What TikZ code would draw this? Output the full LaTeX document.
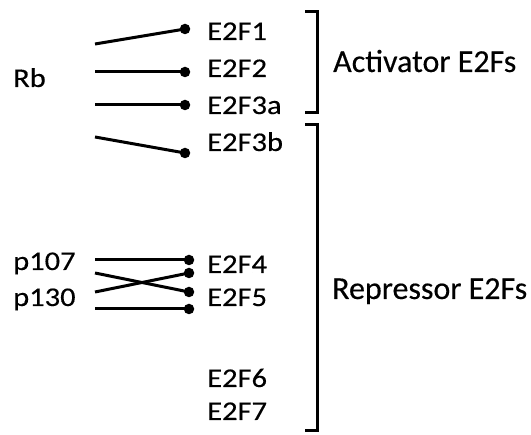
\documentclass[tikz,border=0pt]{standalone}
\usepackage{fontspec}
\setmainfont{Carlito}[FakeBold=0.3]
\newfontfamily\lblfont{Carlito}[FakeStretch=1.13,FakeBold=0.3]
\begin{document}
\begin{tikzpicture}[x=1pt,y=-1pt,
  lbl/.style={anchor=base west,inner sep=0pt,font=\lblfont\fontsize{27}{30}\selectfont},
  grp/.style={anchor=base west,inner sep=0pt,font=\fontsize{32}{38}\selectfont},
  tip/.style={circle,fill=black,inner sep=0pt,minimum size=10.5pt},
  bond/.style={line width=3pt},
  brk/.style={line width=3pt}]
\useasboundingbox (0,0) rectangle (531,435);

% binding partners
\node[lbl] (rb) at (13,87) {Rb};
\node[lbl] (p107) at (13,270) {p107};
\node[lbl] (p130) at (13,306) {p130};

% E2F family members
\node[lbl] (f1) at (207,40) {E2F1};
\node[lbl] (f2) at (207,77) {E2F2};
\node[lbl] (f3a) at (207,114) {E2F3a};
\node[lbl] (f3b) at (207,151) {E2F3b};
\node[lbl] (f4) at (207,273) {E2F4};
\node[lbl] (f5) at (207,306) {E2F5};
\node[lbl] (f6) at (207,387) {E2F6};
\node[lbl] (f7) at (207,420) {E2F7};

% group labels
\node[grp] (act) at (333,72) {Activator E2Fs};
\node[grp] (rep) at (332,299) {Repressor E2Fs};

% Rb interactions
\coordinate (r1) at (95,44);
\coordinate (r2) at (95,72);
\coordinate (r3) at (95,105);
\coordinate (r4) at (95,137);
\node[tip] (d1) at (185,29) {};
\node[tip] (d2) at (185,72) {};
\node[tip] (d3) at (185,105) {};
\node[tip] (d4) at (185,153) {};
\draw[bond] (r1) -- (d1.center);
\draw[bond] (r2) -- (d2.center);
\draw[bond] (r3) -- (d3.center);
\draw[bond] (r4) -- (d4.center);

% p107 / p130 interactions
\coordinate (q1) at (95,260);
\coordinate (q2) at (95,273);
\coordinate (q3) at (95,292);
\coordinate (q4) at (95,309);
\node[tip] (e1) at (189,260) {};
\node[tip] (e2) at (189,273) {};
\node[tip] (e3) at (189,292) {};
\node[tip] (e4) at (189,309) {};
\draw[bond] (q1) -- (e1.center);
\draw[bond] (q2) -- (e3.center);
\draw[bond] (q3) -- (e2.center);
\draw[bond] (q4) -- (e4.center);

% brackets
\coordinate (a1) at (305,12);
\coordinate (a2) at (317,12);
\coordinate (a3) at (317,113);
\coordinate (a4) at (305,113);
\draw[brk] (a1) -- (a2) -- (a3) -- (a4);
\coordinate (b1) at (305,125);
\coordinate (b2) at (317,125);
\coordinate (b3) at (317,431);
\coordinate (b4) at (305,431);
\draw[brk] (b1) -- (b2) -- (b3) -- (b4);
\end{tikzpicture}
\end{document}
